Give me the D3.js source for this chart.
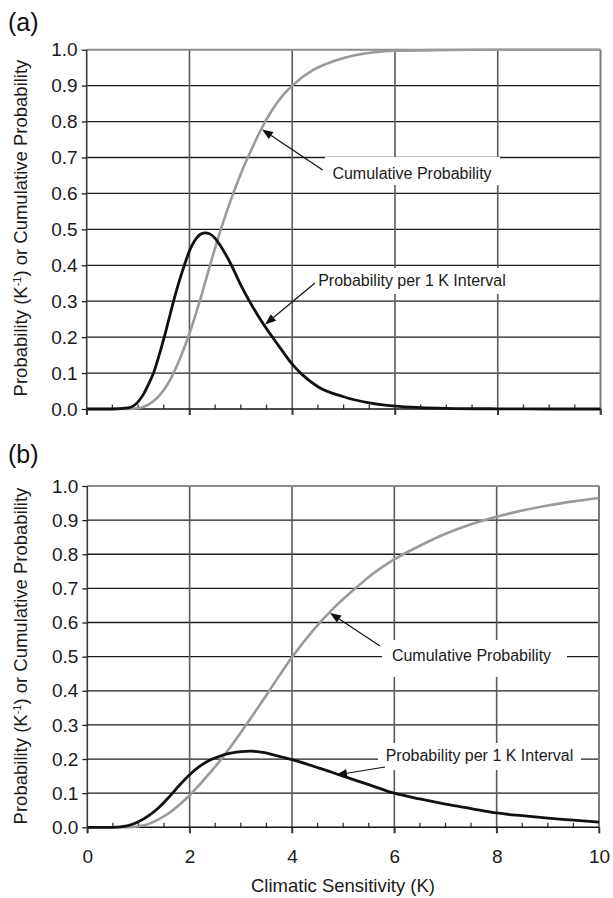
<!DOCTYPE html>
<html>
<head>
<meta charset="utf-8">
<script src="https://cdn.jsdelivr.net/npm/d3@7"></script>
<style>
  html, body { margin: 0; padding: 0; background: #fff; }
  svg { display: block; font-family: "Liberation Sans", Arial, Helvetica, sans-serif; }
</style>
</head>
<body>
<svg id="chart" width="613" height="898"></svg>
<script>
// ---------- DATA ----------
const xTicks = [0, 2, 4, 6, 8, 10];
const yTicks = [0, 0.1, 0.2, 0.3, 0.4, 0.5, 0.6, 0.7, 0.8, 0.9, 1.0];
const panelLabels = ["(a)", "(b)"];
const xTitle = "Climatic Sensitivity (K)";
const annCum = "Cumulative Probability";
const annProb = "Probability per 1 K Interval";

// Panel (a) probability per 1 K interval
const aProbX = [0, 0.5, 0.8, 1.0, 1.1, 1.2, 1.3, 1.4, 1.5, 1.6, 1.7, 1.8, 1.9, 2.0, 2.1, 2.2, 2.3, 2.4, 2.5, 2.6, 2.8, 3.0, 3.2, 3.4, 3.6, 3.8, 4.0, 4.2, 4.5, 5.0, 5.5, 6.0, 6.5, 7.0, 8.0, 9.0, 10.0];
const aProbY = [0, 0, 0.003, 0.02, 0.04, 0.068, 0.1, 0.145, 0.195, 0.25, 0.305, 0.355, 0.4, 0.44, 0.468, 0.485, 0.49, 0.487, 0.475, 0.455, 0.405, 0.345, 0.292, 0.245, 0.203, 0.163, 0.125, 0.095, 0.062, 0.034, 0.017, 0.008, 0.004, 0.002, 0.0005, 0, 0];
// Panel (a) cumulative probability
const aCumX = [0, 0.8, 1.0, 1.2, 1.4, 1.6, 1.8, 2.0, 2.2, 2.4, 2.6, 2.8, 3.0, 3.2, 3.4, 3.6, 3.8, 4.0, 4.4, 4.8, 5.2, 5.6, 6.0, 7.0, 8.0, 10.0];
const aCumY = [0, 0, 0.002, 0.012, 0.035, 0.075, 0.135, 0.21, 0.3, 0.4, 0.495, 0.58, 0.655, 0.72, 0.78, 0.83, 0.87, 0.9, 0.943, 0.968, 0.984, 0.993, 0.997, 0.999, 1.0, 1.0];

// Panel (b) probability per 1 K interval
const bProbX = [0, 0.5, 0.8, 1.0, 1.2, 1.4, 1.6, 1.8, 2.0, 2.2, 2.4, 2.6, 2.8, 3.0, 3.2, 3.4, 3.6, 3.8, 4.0, 4.5, 5.0, 5.5, 6.0, 6.5, 7.0, 7.5, 8.0, 8.5, 9.0, 9.5, 10.0];
const bProbY = [0, 0, 0.005, 0.016, 0.034, 0.058, 0.089, 0.123, 0.154, 0.179, 0.197, 0.209, 0.217, 0.222, 0.223, 0.22, 0.214, 0.206, 0.198, 0.175, 0.15, 0.125, 0.1, 0.083, 0.068, 0.055, 0.042, 0.034, 0.027, 0.021, 0.015];
// Panel (b) cumulative probability
const bCumX = [0, 0.8, 1.0, 1.2, 1.4, 1.6, 1.8, 2.0, 2.2, 2.4, 2.6, 2.8, 3.0, 3.2, 3.4, 3.6, 3.8, 4.0, 4.4, 4.8, 5.2, 5.6, 6.0, 6.5, 7.0, 7.5, 8.0, 8.5, 9.0, 9.5, 10.0];
const bCumY = [0, 0, 0.003, 0.01, 0.024, 0.042, 0.066, 0.094, 0.126, 0.16, 0.196, 0.236, 0.278, 0.321, 0.365, 0.41, 0.455, 0.498, 0.575, 0.64, 0.695, 0.745, 0.785, 0.825, 0.86, 0.888, 0.91, 0.928, 0.943, 0.955, 0.965];

// ---------- DRAW ----------
const svg = d3.select("#chart");
const zip = (xs, ys) => xs.map((x, i) => [x, ys[i]]);

const panels = [
  {
    label: panelLabels[0], labelY: 31, top: 49.7, bottom: 409, left: 86.7, right: 600.5,
    prob: zip(aProbX, aProbY), cum: zip(aCumX, aCumY), titleCenter: 228, showX: false,
    cumBox: [325, 157, 500, 185], cumText: [412, 179], cumArrow: [[322.7, 170], [262, 129.5]],
    probBox: [312, 268, 511, 294], probText: [412, 285.5], probArrow: [[315, 283], [265, 324.5]]
  },
  {
    label: panelLabels[1], labelY: 463, top: 486, bottom: 827.3, left: 87.3, right: 599,
    prob: zip(bProbX, bProbY), cum: zip(bCumX, bCumY), titleCenter: 656, showX: true,
    cumBox: [382, 640, 567, 677], cumText: [471.5, 661], cumArrow: [[380, 646], [330, 613]],
    probBox: [378, 743, 581, 770], probText: [479.5, 761], probArrow: [[385, 767], [336, 775]]
  }
];

panels.forEach(p => {
  const g = svg.append("g");
  const x = d3.scaleLinear().domain([0, 10]).range([p.left, p.right]);
  const y = d3.scaleLinear().domain([0, 1]).range([p.bottom, p.top]);

  // panel label
  g.append("text").attr("x", 8).attr("y", p.labelY)
    .attr("font-size", 25).attr("fill", "#111").text(p.label);

  // horizontal gridlines (0.1 .. 0.9)
  g.selectAll(".hg").data(yTicks.filter(v => v > 0 && v < 1)).join("line")
    .attr("x1", x(0)).attr("x2", x(10))
    .attr("y1", d => y(d)).attr("y2", d => y(d))
    .attr("stroke", "#1c1c1c").attr("stroke-width", 1.3);

  // vertical gridlines at 2,4,6,8 (extending below axis as major ticks)
  g.selectAll(".vg").data(xTicks.filter(v => v > 0 && v < 10)).join("line")
    .attr("x1", d => x(d)).attr("x2", d => x(d))
    .attr("y1", y(1)).attr("y2", y(0) + 6)
    .attr("stroke", "#5a5a5a").attr("stroke-width", 1.6);

  // top border (gray) and right border (gray)
  g.append("line").attr("x1", x(0)).attr("x2", x(10)).attr("y1", y(1)).attr("y2", y(1))
    .attr("stroke", "#8c8c8c").attr("stroke-width", 2);
  g.append("line").attr("x1", x(10)).attr("x2", x(10)).attr("y1", y(1)).attr("y2", y(0) + 6)
    .attr("stroke", "#7a7a7a").attr("stroke-width", 2);

  // left axis
  g.append("line").attr("x1", x(0)).attr("x2", x(0)).attr("y1", y(1)).attr("y2", y(0) + 6)
    .attr("stroke", "#3a3a3a").attr("stroke-width", 1.6);

  // y ticks + labels via d3 axis
  const yAxis = d3.axisLeft(y).tickValues(yTicks).tickFormat(d3.format(".1f"))
    .tickSize(5).tickPadding(4);
  const ya = g.append("g").attr("transform", `translate(${x(0)},0)`).call(yAxis);
  ya.select(".domain").remove();
  ya.selectAll(".tick line").attr("stroke", "#222").attr("stroke-width", 1.3);
  ya.selectAll(".tick text").attr("font-size", 19).attr("fill", "#1a1a1a")
    .attr("font-family", "Liberation Sans, Arial, sans-serif");

  // minor ticks every 0.5 (pointing up)
  const minor = d3.range(0.5, 10, 0.5).filter(v => v % 2 !== 0);
  g.selectAll(".mt").data(minor).join("line")
    .attr("x1", d => x(d)).attr("x2", d => x(d))
    .attr("y1", y(0)).attr("y2", y(0) - 4.5)
    .attr("stroke", "#333").attr("stroke-width", 1.3);

  // x axis (bottom) line
  const xAxis = d3.axisBottom(x).tickValues(xTicks).tickSize(6).tickPadding(8)
    .tickFormat(p.showX ? d3.format("d") : () => "");
  const xa = g.append("g").attr("transform", `translate(0,${y(0)})`).call(xAxis);
  xa.select(".domain").attr("stroke", "#111").attr("stroke-width", 1.6)
    .attr("d", `M${x(0)},0H${x(10)}`);
  xa.selectAll(".tick line").attr("stroke", "#333").attr("stroke-width", 1.5);
  xa.selectAll(".tick text").attr("font-size", 19).attr("fill", "#1a1a1a")
    .attr("font-family", "Liberation Sans, Arial, sans-serif")
    .attr("dy", "0.0em").attr("y", 35.5);

  // y axis title (rotated)
  const t = g.append("text")
    .attr("transform", `translate(27,${p.titleCenter}) rotate(-90)`)
    .attr("text-anchor", "middle").attr("font-size", 18.5).attr("fill", "#1a1a1a");
  t.append("tspan").text("Probability (K");
  t.append("tspan").attr("font-size", 11).attr("baseline-shift", "super").text("-1");
  t.append("tspan").text(") or Cumulative Probability");

  // curves
  const line = d3.line().x(d => x(d[0])).y(d => y(d[1])).curve(d3.curveMonotoneX);
  g.append("path").datum(p.cum).attr("d", line)
    .attr("fill", "none").attr("stroke", "#9a9a9a").attr("stroke-width", 2.6);
  g.append("path").datum(p.prob).attr("d", line)
    .attr("fill", "none").attr("stroke", "#111").attr("stroke-width", 2.8);

  // annotations
  const drawAnn = (box, pos, txt, arrow) => {
    g.append("rect").attr("x", box[0]).attr("y", box[1])
      .attr("width", box[2] - box[0]).attr("height", box[3] - box[1]).attr("fill", "#fff");
    g.append("text").attr("x", pos[0]).attr("y", pos[1]).attr("text-anchor", "middle")
      .attr("font-size", 16).attr("fill", "#1a1a1a").text(txt);
    const [s, e] = arrow;
    const ang = Math.atan2(e[1] - s[1], e[0] - s[0]);
    const hl = 11, hw = 4.2;
    const bx = e[0] - hl * Math.cos(ang), by = e[1] - hl * Math.sin(ang);
    g.append("line").attr("x1", s[0]).attr("y1", s[1]).attr("x2", bx).attr("y2", by)
      .attr("stroke", "#111").attr("stroke-width", 1.2);
    const px = -Math.sin(ang), py = Math.cos(ang);
    g.append("path")
      .attr("d", `M${e[0]},${e[1]}L${bx + hw * px},${by + hw * py}L${bx - hw * px},${by - hw * py}Z`)
      .attr("fill", "#111");
  };
  drawAnn(p.cumBox, p.cumText, annCum, p.cumArrow);
  drawAnn(p.probBox, p.probText, annProb, p.probArrow);
});

// x axis title
svg.append("text").attr("x", 343).attr("y", 892).attr("text-anchor", "middle")
  .attr("font-size", 18.5).attr("fill", "#1a1a1a").text(xTitle);
</script>
</body>
</html>
